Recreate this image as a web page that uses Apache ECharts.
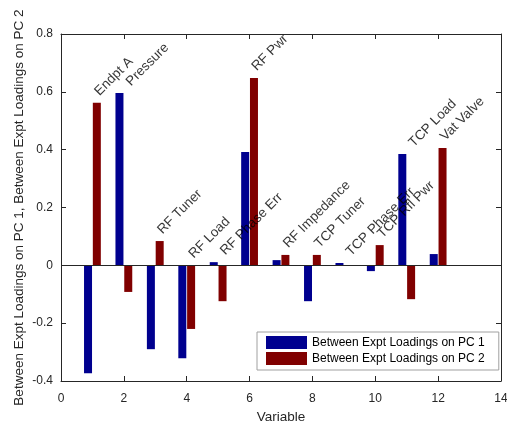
<!DOCTYPE html>
<html>
<head>
<meta charset="utf-8">
<script src="https://cdn.jsdelivr.net/npm/echarts@6/dist/echarts.min.js"></script>
<style>html,body{margin:0;padding:0;background:#fff}#c{width:507px;height:425px}</style>
</head>
<body>
<div id="c"></div>
<script>
const variables = [1, 2, 3, 4, 5, 6, 7, 8, 9, 10, 11, 12];
const varNames = ['Endpt A', 'Pressure', 'RF Tuner', 'RF Load', 'RF Phase Err', 'RF Pwr',
  'RF Impedance', 'TCP Tuner', 'TCP Phase Err', 'TCP Rfl Pwr', 'TCP Load', 'Vat Valve'];
const pc1 = [-0.373, 0.596, -0.290, -0.321, 0.011, 0.392, 0.018, -0.124, 0.008, -0.020, 0.385, 0.039];
const pc2 = [0.562, -0.092, 0.084, -0.220, -0.124, 0.648, 0.036, 0.036, 0.000, 0.070, -0.117, 0.406];
const xTicks = [0, 2, 4, 6, 8, 10, 12, 14];
const yTicks = [-0.4, -0.2, 0, 0.2, 0.4, 0.6, 0.8];
const seriesNames = ['Between Expt Loadings on PC 1', 'Between Expt Loadings on PC 2'];

const AX = '#262626';
const FONT = 'Liberation Sans, Arial, Helvetica, sans-serif';
const labelOffset = 0.03;

const chart = echarts.init(document.getElementById('c'), null, {renderer: 'canvas'});

const baseAxis = {
  axisLine: {show: true, onZero: false, lineStyle: {color: AX, width: 1}},
  axisTick: {show: true, inside: true, length: 5, lineStyle: {color: AX}},
  splitLine: {show: false}
};

const option = {
  animation: false,
  backgroundColor: '#fff',
  grid: {left: 61, right: 6, top: 34, bottom: 44, containLabel: false, outerBoundsMode: 'none'},
  xAxis: [
    Object.assign({}, baseAxis, {
      type: 'value', min: xTicks[0], max: xTicks[xTicks.length - 1], interval: 2,
      position: 'bottom',
      name: 'Variable', nameLocation: 'middle', nameGap: 29, nameMoveOverlap: false,
      nameTextStyle: {fontFamily: FONT, fontSize: 13.5, color: AX},
      axisLabel: {fontFamily: FONT, fontSize: 12, color: AX, margin: 12}
    }),
    Object.assign({}, baseAxis, {
      type: 'value', min: xTicks[0], max: xTicks[xTicks.length - 1], interval: 2,
      position: 'top', axisLabel: {show: false}
    })
  ],
  yAxis: [
    Object.assign({}, baseAxis, {
      type: 'value', min: yTicks[0], max: yTicks[yTicks.length - 1], interval: 0.2,
      position: 'left',
      name: seriesNames[0] + ', ' + seriesNames[1], nameLocation: 'middle', nameGap: 35,
      nameMoveOverlap: false,
      nameTextStyle: {fontFamily: FONT, fontSize: 13.5, color: AX},
      axisLabel: {fontFamily: FONT, fontSize: 12, color: AX, margin: 8,
        formatter: v => (Math.abs(v) < 1e-9 ? '0' : String(Math.round(v * 10) / 10))}
    }),
    Object.assign({}, baseAxis, {
      type: 'value', min: yTicks[0], max: yTicks[yTicks.length - 1], interval: 0.2,
      position: 'right', axisLabel: {show: false}
    })
  ],
  legend: {
    data: seriesNames,
    orient: 'vertical',
    left: 257, top: 332,
    icon: 'rect',
    itemWidth: 41, itemHeight: 13, itemGap: 3,
    padding: [4, 14, 5, 9],
    borderColor: '#a0a0a0', borderWidth: 1,
    backgroundColor: '#fff',
    textStyle: {fontFamily: FONT, fontSize: 12, color: '#000'}
  },
  series: [
    {
      name: seriesNames[0], type: 'bar', xAxisIndex: 0, yAxisIndex: 0,
      barWidth: 8, barGap: '10%',
      itemStyle: {color: '#00008F'},
      data: variables.map((x, i) => [x, pc1[i]]),
      markLine: {
        silent: true, symbol: 'none', label: {show: false},
        lineStyle: {color: AX, type: 'solid', width: 1},
        data: [{yAxis: 0}]
      }
    },
    {
      name: seriesNames[1], type: 'bar', xAxisIndex: 0, yAxisIndex: 0,
      barWidth: 8, barGap: '10%',
      itemStyle: {color: '#800000'},
      data: variables.map((x, i) => [x, pc2[i]])
    },
    {
      name: 'labels', type: 'scatter', xAxisIndex: 0, yAxisIndex: 0,
      symbolSize: 0, silent: true,
      itemStyle: {color: 'transparent'},
      data: variables.map((x, i) => ({
        value: [x, Math.max(0, pc1[i], pc2[i]) + labelOffset],
        name: varNames[i]
      })),
      label: {
        show: true, position: 'right', distance: 0, rotate: 45, offset: [3.6, 2.8],
        formatter: p => p.name,
        fontFamily: FONT, fontSize: 13.5, color: '#000'
      }
    }
  ]
};
chart.setOption(option);
</script>
</body>
</html>
